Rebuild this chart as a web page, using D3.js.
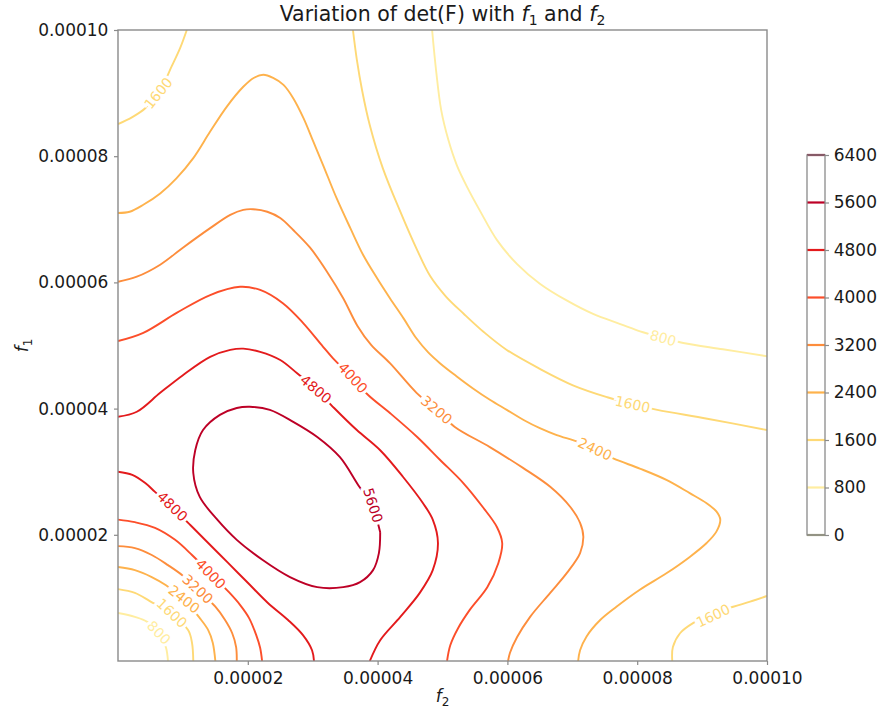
<!DOCTYPE html>
<html>
<head>
<meta charset="utf-8">
<script src="https://cdn.jsdelivr.net/npm/d3@7"></script>
<style>
  html, body { margin: 0; padding: 0; background: #fff; }
  svg { display: block; font-family: "DejaVu Sans", sans-serif; }
</style>
</head>
<body>
<svg id="chart" width="883" height="713"></svg>
<script>
// ---------- data (f2, f1 in units of 1e-5) ----------
const UNIT = 1e-5;
const levels = [0, 800, 1600, 2400, 3200, 4000, 4800, 5600, 6400];
const levelColors = ["#ffffcc", "#ffeda0", "#fed976", "#feb24c", "#fd8d3c", "#fc4e2a", "#e31a1c", "#bd0026", "#800026"];
const xTicks = [2e-5, 4e-5, 6e-5, 8e-5, 1e-4];
const yTicks = [2e-5, 4e-5, 6e-5, 8e-5, 1e-4];

const c800a = [[4.84,10.0],[4.90,9.37],[4.98,8.73],[5.09,8.26],[5.22,7.86],[5.38,7.51],[5.58,7.13],[5.84,6.67],[6.15,6.29],[6.50,5.98],[6.92,5.71],[7.32,5.50],[7.74,5.34],[8.09,5.21],[8.40,5.12],[8.71,5.04],[9.32,4.94],[10.0,4.83]];
const c800b = [[0,0.76],[0.26,0.70],[0.45,0.62],[0.65,0.41],[0.74,0.21],[0.77,0]];
const c1600a = [[1.06,10.0],[0.96,9.72],[0.83,9.43],[0.65,9.05],[0.42,8.76],[0.22,8.62],[0,8.51]];
const c1600b = [[3.62,10.0],[3.68,9.53],[3.76,9.05],[3.88,8.49],[4.08,7.81],[4.35,7.12],[4.61,6.51],[4.81,6.10],[5.05,5.78],[5.33,5.50],[5.64,5.21],[5.99,4.93],[6.50,4.63],[7.01,4.37],[7.54,4.18],[7.92,4.07],[8.31,3.98],[9.08,3.84],[10.0,3.66]];
const c1600c = [[8.54,0],[8.55,0.22],[8.66,0.44],[8.86,0.60],[9.17,0.75],[9.48,0.86],[9.74,0.94],[10.0,1.03]];
const c1600d = [[0,1.14],[0.26,1.08],[0.49,0.95],[0.80,0.76],[1.08,0.49],[1.14,0.29],[1.16,0]];
const c2400a = [[0,7.10],[0.18,7.12],[0.39,7.23],[0.65,7.41],[0.90,7.65],[1.16,7.97],[1.42,8.39],[1.68,8.79],[1.93,9.10],[2.09,9.24],[2.24,9.29],[2.39,9.24],[2.55,9.13],[2.70,8.92],[2.86,8.60],[3.01,8.23],[3.16,7.86],[3.37,7.33],[3.58,6.86],[3.78,6.43],[3.99,6.07],[4.19,5.75],[4.40,5.43],[4.60,5.11],[4.78,4.89],[4.96,4.72],[5.22,4.51],[5.47,4.32],[5.73,4.14],[5.99,3.98],[6.25,3.82],[6.50,3.69],[6.76,3.58],[7.12,3.46],[7.63,3.21],[8.04,3.05],[8.45,2.87],[8.81,2.66],[9.07,2.50],[9.22,2.37],[9.28,2.24],[9.22,2.05],[9.07,1.87],[8.81,1.65],[8.45,1.39],[8.04,1.13],[7.68,0.86],[7.43,0.65],[7.22,0.39],[7.12,0.17],[7.09,0]];
const c2400b = [[0,1.49],[0.26,1.44],[0.52,1.33],[0.74,1.20],[1.02,0.97],[1.26,0.68],[1.39,0.49],[1.46,0.29],[1.50,0]];
const c3200a = [[0,6.01],[0.29,6.09],[0.65,6.28],[1.00,6.55],[1.42,6.86],[1.73,7.07],[1.93,7.15],[2.08,7.16],[2.30,7.12],[2.50,7.02],[2.70,6.83],[2.96,6.55],[3.22,6.17],[3.47,5.75],[3.69,5.31],[3.90,5.01],[4.19,4.72],[4.60,4.25],[4.91,3.98],[5.19,3.71],[5.73,3.39],[6.24,3.06],[6.66,2.76],[6.97,2.44],[7.12,2.19],[7.17,1.97],[7.12,1.71],[6.92,1.40],[6.66,1.08],[6.35,0.70],[6.15,0.38],[6.04,0.13],[6.01,0]];
const c3200b = [[0,1.82],[0.26,1.79],[0.52,1.68],[0.77,1.52],[0.99,1.36],[1.23,1.13],[1.50,0.86],[1.65,0.65],[1.76,0.44],[1.82,0.22],[1.83,0]];
const c4000a = [[0,5.07],[0.39,5.20],[0.91,5.52],[1.42,5.80],[1.88,5.93],[2.19,5.88],[2.54,5.67],[2.85,5.36],[3.16,4.98],[3.31,4.80],[3.61,4.49],[3.85,4.22],[4.19,3.93],[4.61,3.55],[4.96,3.19],[5.32,2.82],[5.62,2.44],[5.84,2.12],[5.92,1.87],[5.86,1.55],[5.69,1.17],[5.42,0.81],[5.24,0.52],[5.12,0.25],[5.07,0]];
const c4000b = [[0,2.24],[0.26,2.20],[0.57,2.11],[0.88,1.92],[1.14,1.68],[1.43,1.38],[1.71,1.09],[1.88,0.89],[2.02,0.68],[2.13,0.41],[2.19,0.21],[2.22,0]];
const c4800a = [[0,3.87],[0.29,3.95],[0.65,4.25],[1.00,4.53],[1.42,4.82],[1.73,4.93],[1.93,4.95],[2.19,4.90],[2.50,4.77],[2.76,4.56],[3.05,4.31],[3.33,4.01],[3.68,3.66],[4.04,3.34],[4.39,2.92],[4.70,2.50],[4.85,2.24],[4.93,1.87],[4.85,1.44],[4.65,1.08],[4.35,0.70],[4.04,0.33],[3.88,0]];
const c4800b = [[0,3.00],[0.22,2.95],[0.42,2.82],[0.57,2.68],[0.83,2.44],[1.11,2.16],[1.39,1.87],[1.70,1.55],[2.00,1.24],[2.31,0.92],[2.62,0.65],[2.85,0.41],[2.99,0.17],[3.02,0]];
const c5600 = [[4.04,2.04],[4.02,1.71],[3.93,1.44],[3.73,1.25],[3.47,1.17],[3.07,1.17],[2.65,1.33],[2.23,1.60],[1.83,1.92],[1.53,2.24],[1.26,2.60],[1.16,2.98],[1.19,3.34],[1.31,3.66],[1.57,3.90],[1.83,4.01],[2.03,4.03],[2.34,3.98],[2.70,3.79],[3.07,3.55],[3.42,3.23],[3.70,2.79],[3.91,2.47],[4.04,2.04]];

const contours = [
  {level: 800, pts: c800a}, {level: 800, pts: c800b},
  {level: 1600, pts: c1600a}, {level: 1600, pts: c1600b}, {level: 1600, pts: c1600c}, {level: 1600, pts: c1600d},
  {level: 2400, pts: c2400a}, {level: 2400, pts: c2400b},
  {level: 3200, pts: c3200a}, {level: 3200, pts: c3200b},
  {level: 4000, pts: c4000a}, {level: 4000, pts: c4000b},
  {level: 4800, pts: c4800a}, {level: 4800, pts: c4800b},
  {level: 5600, pts: c5600}
];

// inline labels: [level, f2, f1]
const labels = [
  [1600, 0.62, 9.00], [800, 8.40, 5.12], [1600, 7.93, 4.07], [2400, 7.35, 3.36],
  [3200, 4.91, 3.98], [4000, 3.62, 4.49], [4800, 3.05, 4.31], [5600, 3.93, 2.47],
  [4800, 0.84, 2.45], [4000, 1.43, 1.38], [3200, 1.23, 1.14], [2400, 1.02, 0.98],
  [1600, 0.83, 0.76], [800, 0.63, 0.45], [1600, 9.17, 0.72]
];

// ---------- drawing ----------
const svg = d3.select("#chart");
const L = 118, R = 767, T = 30, B = 661;
const x = d3.scaleLinear().domain([0, 1e-4]).range([L, R]);
const y = d3.scaleLinear().domain([0, 1e-4]).range([B, T]);
const color = d3.scaleOrdinal().domain(levels).range(levelColors);

svg.append("defs").append("clipPath").attr("id", "clip")
  .append("rect").attr("x", L).attr("y", T).attr("width", R - L).attr("height", B - T);

const line = d3.line()
  .x(d => x(d[0] * UNIT)).y(d => y(d[1] * UNIT))
  .curve(d3.curveCatmullRom.alpha(0.5));

const gLines = svg.append("g").attr("clip-path", "url(#clip)");
gLines.selectAll("path").data(contours).join("path")
  .attr("d", d => line(d.pts))
  .attr("fill", "none")
  .attr("stroke", d => color(d.level))
  .attr("stroke-width", 1.9)
  .attr("stroke-linejoin", "round");

// label rotation from nearest segment
function labelAngle(level, px, py) {
  let best = null, bd = Infinity;
  contours.filter(c => c.level === level).forEach(c => {
    const p = c.pts.map(d => [x(d[0] * UNIT), y(d[1] * UNIT)]);
    for (let i = 0; i < p.length - 1; i++) {
      const [x1, y1] = p[i], [x2, y2] = p[i + 1];
      const dx = x2 - x1, dy = y2 - y1;
      let t = ((px - x1) * dx + (py - y1) * dy) / (dx * dx + dy * dy || 1);
      t = Math.max(0, Math.min(1, t));
      const qx = x1 + t * dx, qy = y1 + t * dy;
      const dd = (qx - px) ** 2 + (qy - py) ** 2;
      if (dd < bd) { bd = dd; best = [dx, dy]; }
    }
  });
  let a = Math.atan2(best[1], best[0]) * 180 / Math.PI;
  if (a > 90) a -= 180;
  if (a < -90) a += 180;
  return a;
}

const gLab = svg.append("g");
labels.forEach(([lev, f2, f1]) => {
  const px = x(f2 * UNIT), py = y(f1 * UNIT);
  const a = labelAngle(lev, px, py);
  gLab.append("text")
    .attr("transform", `translate(${px},${py}) rotate(${a})`)
    .attr("text-anchor", "middle")
    .attr("dy", "0.36em")
    .attr("font-size", 14)
    .attr("fill", color(lev))
    .attr("stroke", "#fff")
    .attr("stroke-width", 6)
    .attr("paint-order", "stroke")
    .text(lev);
});

// axes
const fmt = d3.format(".5f");
const gx = svg.append("g").attr("transform", `translate(0,${B})`)
  .call(d3.axisBottom(x).tickValues(xTicks).tickFormat(fmt).tickSize(4).tickSizeOuter(0));
const gy = svg.append("g").attr("transform", `translate(${L},0)`)
  .call(d3.axisLeft(y).tickValues(yTicks).tickFormat(fmt).tickSize(4).tickSizeOuter(0));
[gx, gy].forEach(g => {
  g.select(".domain").remove();
  g.selectAll(".tick line").attr("stroke", "#8a8a8a").attr("stroke-width", 1.2);
  g.selectAll(".tick text").attr("font-size", 17).attr("fill", "#1a1a1a")
    .attr("font-family", "DejaVu Sans, sans-serif");
});
gx.selectAll(".tick text").attr("dy", "0.95em");
gy.selectAll(".tick text").attr("dx", "-0.15em");

svg.append("rect").attr("x", L).attr("y", T).attr("width", R - L).attr("height", B - T)
  .attr("fill", "none").attr("stroke", "#8a8a8a").attr("stroke-width", 1.4);

// title
const title = svg.append("text").attr("x", (L + R) / 2).attr("y", 21)
  .attr("text-anchor", "middle").attr("font-size", 20.5).attr("fill", "#1a1a1a");
title.append("tspan").text("Variation of det(F) with ");
title.append("tspan").attr("font-style", "italic").text("f");
title.append("tspan").attr("font-size", 14).attr("dy", 4).text("1");
title.append("tspan").attr("dy", -4).text(" and ");
title.append("tspan").attr("font-style", "italic").text("f");
title.append("tspan").attr("font-size", 14).attr("dy", 4).text("2");

// axis labels
const xl = svg.append("text").attr("x", (L + R) / 2).attr("y", 702)
  .attr("text-anchor", "middle").attr("font-size", 17).attr("fill", "#1a1a1a");
xl.append("tspan").attr("font-style", "italic").text("f");
xl.append("tspan").attr("font-size", 12).attr("dy", 4).text("2");

const yl = svg.append("text").attr("transform", `translate(28,${(T + B) / 2}) rotate(-90)`)
  .attr("text-anchor", "middle").attr("font-size", 17).attr("fill", "#1a1a1a");
yl.append("tspan").attr("font-style", "italic").text("f");
yl.append("tspan").attr("font-size", 12).attr("dy", 4).text("1");

// colorbar
const cbX0 = 807, cbX1 = 825;
const cb = d3.scaleLinear().domain([0, 6400]).range([535, 155]);
const gcb = svg.append("g");
gcb.selectAll("line.lev").data(levels).join("line").attr("class", "lev")
  .attr("x1", cbX0).attr("x2", cbX1)
  .attr("y1", d => cb(d)).attr("y2", d => cb(d))
  .attr("stroke", d => d === 0 ? "#a3a37a" : color(d)).attr("stroke-width", 2.2);
gcb.append("rect").attr("x", cbX0).attr("y", cb(6400)).attr("width", cbX1 - cbX0)
  .attr("height", cb(0) - cb(6400)).attr("fill", "none")
  .attr("stroke", "#8a8a8a").attr("stroke-width", 1.3);
const gcba = svg.append("g").attr("transform", `translate(${cbX1},0)`)
  .call(d3.axisRight(cb).tickValues(levels).tickFormat(d3.format("d")).tickSize(4).tickSizeOuter(0));
gcba.select(".domain").remove();
gcba.selectAll(".tick line").attr("stroke", "#8a8a8a").attr("stroke-width", 1.2);
gcba.selectAll(".tick text").attr("font-size", 17).attr("fill", "#1a1a1a")
  .attr("font-family", "DejaVu Sans, sans-serif").attr("dx", "0.1em");
</script>
</body>
</html>
